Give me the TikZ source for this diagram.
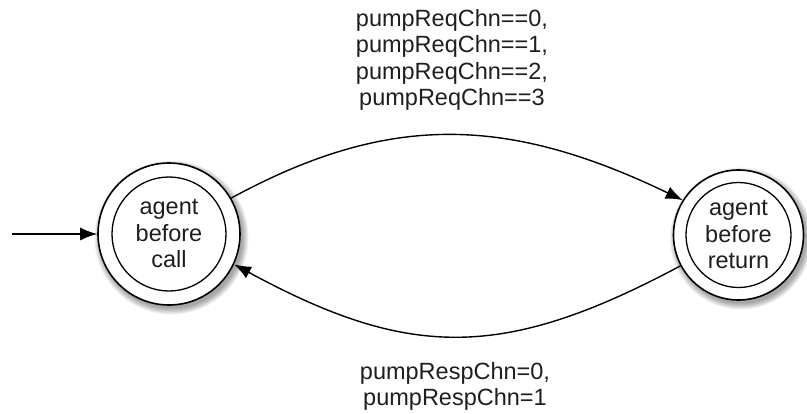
\documentclass[tikz,border=0pt]{standalone}
\usepackage{fontspec}
\setmainfont{Liberation Sans}
\usetikzlibrary{arrows.meta,calc}
\definecolor{inkgrey}{HTML}{1E1E1E}
\tikzset{
  state/.style={circle, draw=black, line width=1.6pt, fill=white,
    inner sep=0pt, align=center, text=inkgrey,
    font=\fontsize{23.5}{26.5}\selectfont},
  innerring/.style={draw=black, line width=1.3pt},
  edgelabel/.style={align=center, text=inkgrey,
    font=\fontsize{23.5}{26.5}\selectfont},
  trans/.style={draw=black, line width=1.4pt,
    -{Latex[length=17pt,width=13pt]}},
}
% soft shadow under a state circle: #1 = centre, #2 = radius
\newcommand{\softshadow}[2]{%
  \foreach \d in {6,5,4,3,2,1,0}{
    \fill[black, opacity=0.06] ($#1+(2.5,3.5)$) circle ({#2+\d});
  }%
}
\begin{document}
\begin{tikzpicture}[x=1pt, y=-1pt]
  \useasboundingbox (0,0) rectangle (807,413);

  % shadows
  \softshadow{(169,234)}{71}
  \softshadow{(738.5,235)}{65}

  % states
  \node[state, minimum size=142pt] (L) at (169,234) {agent\\before\\call};
  \draw[innerring] (L.center) circle (57);
  \node[state, minimum size=130pt] (R) at (738.5,235) {agent\\before\\return};
  \draw[innerring] (R.center) circle (52.5);

  % initial arrow
  \coordinate (init) at (12,234);
  \draw[trans] (init) -- (L.west);

  % transitions
  \draw[trans] (L.30) .. controls (386,114) and (504,114) .. (R.148);
  \draw[trans] (R.208) .. controls (504,360) and (410,360) .. (L.-25);

  % labels
  \node[edgelabel] (reqlab) at (452,60)
    {pumpReqChn==0,\\pumpReqChn==1,\\pumpReqChn==2,\\pumpReqChn==3};
  \node[edgelabel] (resplab) at (455,386.5)
    {pumpRespChn=0,\\pumpRespChn=1};
\end{tikzpicture}
\end{document}
